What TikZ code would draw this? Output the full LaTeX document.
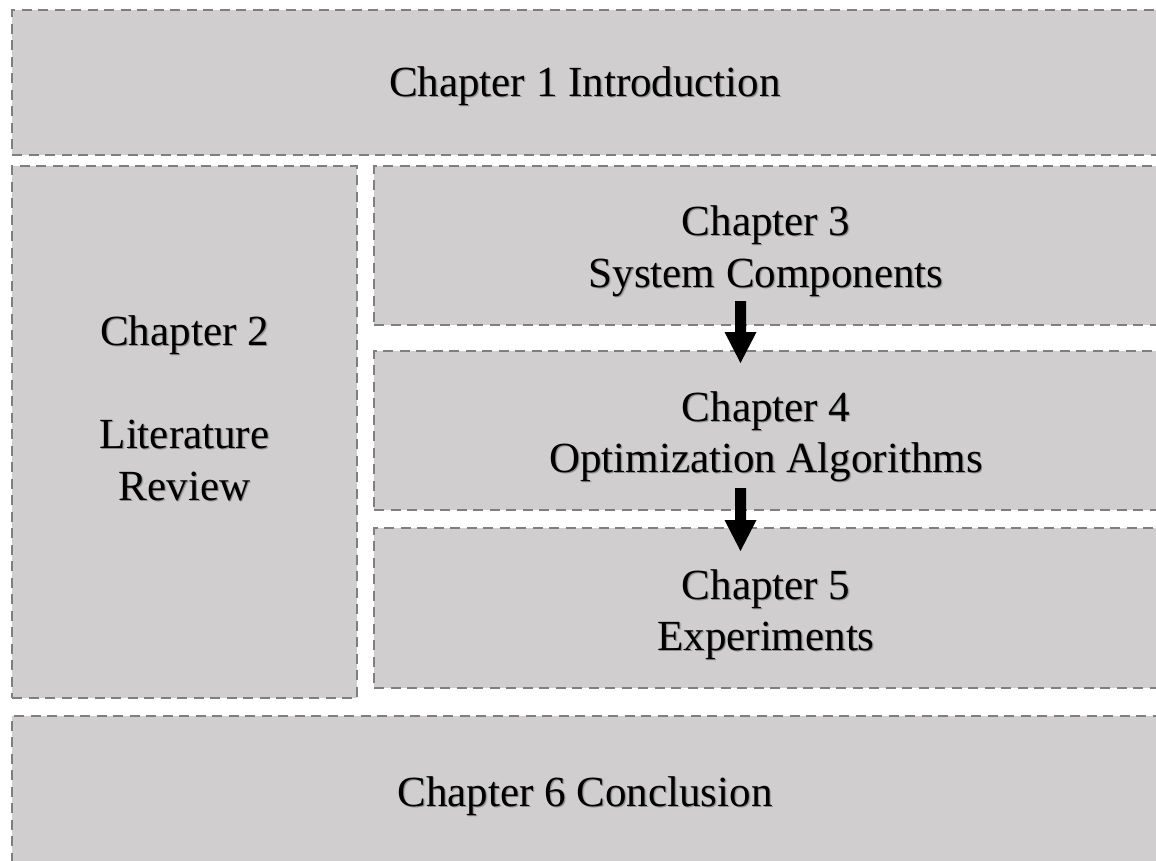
\documentclass[tikz,border=0pt]{standalone}
\usepackage{fontspec}
\setmainfont{Liberation Serif}
\usetikzlibrary{calc}
\definecolor{boxfill}{HTML}{D0CECE}
\definecolor{boxedge}{HTML}{7F7F7F}
% text with a soft drop shadow
\newcommand{\shtxt}[1]{\leavevmode\rlap{\kern1.8pt\lower1.8pt\hbox{\color{black!25}#1}}\rlap{\kern1pt\lower1pt\hbox{\color{black!45}#1}}#1}
\tikzset{
  chapbox/.style={draw=boxedge, fill=boxfill, line width=2.4pt,
    dash pattern=on 10pt off 6.5pt, inner sep=0pt, outer sep=0pt},
  chaptext/.style={anchor=base, inner sep=0pt,
    font=\fontsize{43}{52}\selectfont},
  blockarrow/.style={fill=black},
}
\begin{document}
\begin{tikzpicture}[x=1pt,y=-1pt]
  \fill[white] (0,0) rectangle (1156,860);
  \useasboundingbox (0,0) rectangle (1156,860);

  % chapter boxes
  \node[chapbox, minimum width=1150pt, minimum height=145pt] (c1) at (587,82.5) {};
  \node[chapbox, minimum width=345pt, minimum height=532pt] (c2) at (184.5,432) {};
  \node[chapbox, minimum width=788pt, minimum height=159pt] (c3) at (768,245.5) {};
  \node[chapbox, minimum width=788pt, minimum height=159pt] (c4) at (768,430.5) {};
  \node[chapbox, minimum width=788pt, minimum height=160pt] (c5) at (768,608) {};
  \node[chapbox, minimum width=1150pt, minimum height=154pt] (c6) at (587,793) {};

  % chapter titles
  \node[chaptext] (t1) at (585,96) {\shtxt{Chapter 1 Introduction}};
  \node[chaptext] (t2a) at (184.5,345) {\shtxt{Chapter 2}};
  \node[chaptext] (t2b) at (184.5,448) {\shtxt{Literature}};
  \node[chaptext] (t2c) at (184.5,500) {\shtxt{Review}};
  \node[chaptext] (t3a) at (766,235) {\shtxt{Chapter 3}};
  \node[chaptext] (t3b) at (766,287) {\shtxt{System Components}};
  \node[chaptext] (t4a) at (766,421) {\shtxt{Chapter 4}};
  \node[chaptext] (t4b) at (766,472) {\shtxt{Optimization Algorithms}};
  \node[chaptext] (t5a) at (766,599) {\shtxt{Chapter 5}};
  \node[chaptext] (t5b) at (766,650) {\shtxt{Experiments}};
  \node[chaptext] (t6) at (585,806) {\shtxt{Chapter 6 Conclusion}};

  % block arrows between the stacked chapters
  \coordinate (ax) at (740.5,0);
  \coordinate (a1) at ($(c3.south -| ax)+(0,-24)$);
  \coordinate (a2) at ($(c4.south -| ax)+(0,-22)$);
  \fill[blockarrow] (a1) ++(-5.5,0) -- ++(11,0) -- ++(0,31) -- ++(10.5,0)
    -- ++(-16,31) -- ++(-16,-31) -- ++(10.5,0) -- cycle;
  \fill[blockarrow] (a2) ++(-5.5,0) -- ++(11,0) -- ++(0,32) -- ++(10.5,0)
    -- ++(-16,31) -- ++(-16,-31) -- ++(10.5,0) -- cycle;
\end{tikzpicture}
\end{document}
